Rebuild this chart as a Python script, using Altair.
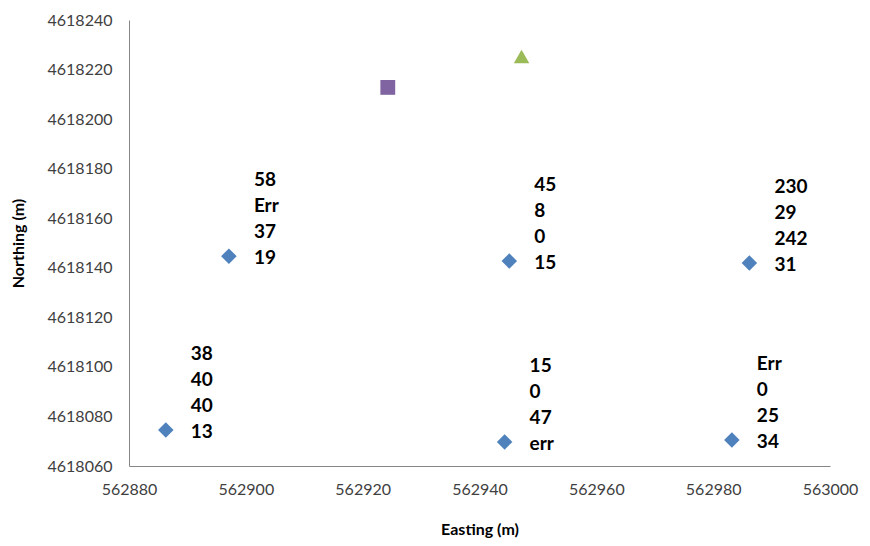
import altair as alt
import pandas as pd

# Well points (diamonds) with their four-line labels
well_x = [562886.3, 562897.1, 562945.1, 562944.3, 562986.2, 562983.2]
well_y = [4618074.5, 4618144.7, 4618142.7, 4618069.7, 4618141.9, 4618070.5]
well_labels = [
    ["38", "40", "40", "13"],
    ["58", "Err", "37", "19"],
    ["45", "8", "0", "15"],
    ["15", "0", "47", "err"],
    ["230", "29", "242", "31"],
    ["Err", "0", "25", "34"],
]

# Other features
square_x = [562924.3]
square_y = [4618212.8]
triangle_x = [562947.2]
triangle_y = [4618225.3]

x_ticks = [562880, 562900, 562920, 562940, 562960, 562980, 563000]
y_ticks = [4618060, 4618080, 4618100, 4618120, 4618140, 4618160, 4618180,
           4618200, 4618220, 4618240]

wells = pd.DataFrame({
    "x": well_x,
    "y": well_y,
    "label": ["\n".join(l) for l in well_labels],
})
sq = pd.DataFrame({"x": square_x, "y": square_y})
tri = pd.DataFrame({"x": triangle_x, "y": triangle_y})

FONT = "Lato"

xscale = alt.Scale(domain=[562880, 563000], nice=False, zero=False)
yscale = alt.Scale(domain=[4618060, 4618240], nice=False, zero=False)

xaxis = alt.Axis(values=x_ticks, format="d", title="Easting (m)", grid=False,
                 ticks=False, domainColor="#868686", labelColor="#404040",
                 labelFont=FONT, labelFontSize=16, labelPadding=15,
                 labelFlush=False,
                 titleFont=FONT, titleFontSize=16, titleFontWeight="bold",
                 titleColor="#000000", titlePadding=24)
yaxis = alt.Axis(values=y_ticks, format="d", title="Northing (m)", grid=False,
                 ticks=False, domainColor="#868686", labelColor="#404040",
                 labelFont=FONT, labelFontSize=16, labelPadding=17,
                 labelFlush=False,
                 titleFont=FONT, titleFontSize=16, titleFontWeight="bold",
                 titleColor="#000000", titleX=-111, titleY=223,
                 titleAngle=270, titleAlign="center", titleBaseline="middle")

base_x = alt.X("x:Q", scale=xscale, axis=xaxis)
base_y = alt.Y("y:Q", scale=yscale, axis=yaxis)

diamonds = alt.Chart(wells).mark_point(
    shape="diamond", filled=True, color="#4F81BD", opacity=1, size=240
).encode(x=base_x, y=base_y)

labels = alt.Chart(wells).mark_text(
    align="left", baseline="middle", dx=25, dy=-76, lineBreak="\n",
    lineHeight=26, font=FONT, fontSize=19, fontWeight="bold", color="#000000"
).encode(x=alt.X("x:Q", scale=xscale), y=alt.Y("y:Q", scale=yscale), text="label:N")

squares = alt.Chart(sq).mark_point(
    shape="square", filled=True, color="#8064A2", opacity=1, size=220
).encode(x=alt.X("x:Q", scale=xscale), y=alt.Y("y:Q", scale=yscale))

triangles = alt.Chart(tri).mark_point(
    shape="triangle-up", filled=True, color="#9BBB59", opacity=1, size=240
).encode(x=alt.X("x:Q", scale=xscale), y=alt.Y("y:Q", scale=yscale))

chart = alt.layer(diamonds, labels, squares, triangles).properties(
    width=701, height=446,
    autosize=alt.AutoSizeParams(type="none"),
    padding={"left": 121, "top": 12, "right": 30, "bottom": 72},
    background="white",
).configure_view(stroke=None)

chart.save("out.html", embed_options={"renderer": "svg", "actions": False})
